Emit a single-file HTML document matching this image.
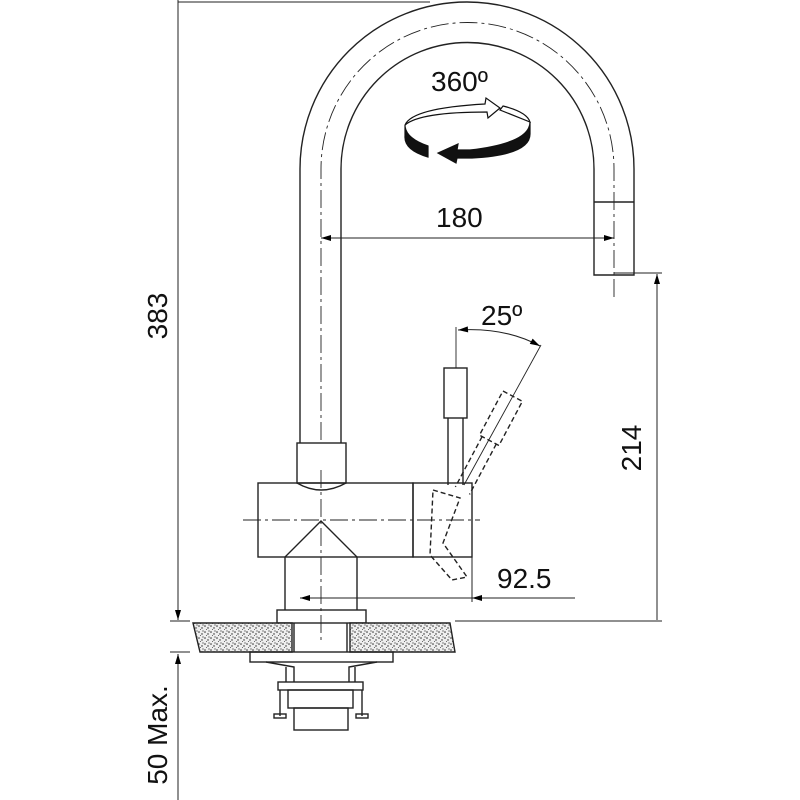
<!DOCTYPE html>
<html><head><style>body{margin:0;background:#fff}svg{display:block}</style></head><body>
<svg width="800" height="800" viewBox="0 0 800 800" xmlns="http://www.w3.org/2000/svg" font-family="Liberation Sans, sans-serif">
<defs>
<marker id="a" viewBox="0 0 10 6" refX="10" refY="3" markerWidth="12" markerHeight="6" orient="auto-start-reverse" markerUnits="userSpaceOnUse"><path d="M0,0L10,3L0,6z" fill="#000"/></marker>
<pattern id="st" width="6" height="6" patternUnits="userSpaceOnUse"><rect width="6" height="6" fill="#eee"/><circle cx="1" cy="2" r="0.8" fill="#333"/><circle cx="4" cy="4" r="0.7" fill="#222"/><circle cx="2.5" cy="5.5" r="0.5" fill="#444"/><circle cx="5" cy="1" r="0.6" fill="#333"/></pattern>
</defs>
<g fill="none" stroke="#222" stroke-width="1.4">
<path d="M300,443 V169 A167,167 0 0 1 634,169 V275 H594 V169 A126,126 0 0 0 341,169 V443"/>
<line x1="594" y1="202" x2="634" y2="202"/>
<path d="M321,440 V169 A146,146 0 0 1 614,169 V300" stroke-dasharray="18,4,3,4" stroke-width="0.9"/>
<rect x="297" y="443" width="49" height="40"/>
<path d="M297,483 Q321,497 346,483"/>
<rect x="258" y="483" width="155" height="74"/>
<rect x="413" y="483" width="59" height="74"/>
<path d="M285,610 V557 L321,521 L357,557 V610"/>
<line x1="243" y1="520" x2="480" y2="520" stroke-dasharray="18,4,3,4" stroke-width="0.9"/>
<line x1="321" y1="470" x2="321" y2="640" stroke-dasharray="18,4,3,4" stroke-width="0.9"/>
<line x1="456" y1="327" x2="456" y2="368" stroke-width="0.9"/>
<rect x="444" y="368" width="23" height="50"/>
<line x1="448" y1="418" x2="448" y2="485"/><line x1="463" y1="418" x2="463" y2="485"/>
<g stroke-dasharray="5,3">
<path d="M433,490 L460,498 L443,543 L467,577 L452,580 L430,555 Z"/>
<g transform="rotate(28 500 420)"><rect x="489" y="393" width="22" height="50"/><line x1="492" y1="443" x2="492" y2="500"/><line x1="508" y1="443" x2="508" y2="500"/></g>
</g>
<line x1="464" y1="485" x2="541" y2="345" stroke-width="0.9"/>
<path d="M458,330 Q505,327 540,346" marker-start="url(#a)" marker-end="url(#a)" stroke-width="1"/>
<rect x="277" y="610" width="89" height="13"/>
<path d="M193,623 H292 V652 H200 Z" fill="url(#st)"/>
<path d="M350,623 H450 L455,652 H350 Z" fill="url(#st)"/>
<line x1="294" y1="623" x2="294" y2="652"/><line x1="347" y1="623" x2="347" y2="652"/>
<rect x="250" y="652" width="143" height="10"/>
<path d="M266,662 L294,667 V682 M377,662 L349,667 V682"/>
<line x1="286" y1="667" x2="286" y2="682"/><line x1="355" y1="667" x2="355" y2="682"/>
<rect x="278" y="682" width="85" height="8"/>
<rect x="288" y="690" width="65" height="18"/>
<rect x="294" y="708" width="54" height="22"/>
<path d="M280,690 V716 M362,690 V716"/>
<rect x="274" y="714" width="12" height="4"/><rect x="356" y="714" width="12" height="4"/>
<g stroke-width="1">
<line x1="178" y1="0" x2="178" y2="620" marker-end="url(#a)"/>
<line x1="178" y1="2" x2="430" y2="2"/>
<line x1="170" y1="621" x2="190" y2="621"/><line x1="455" y1="621" x2="662" y2="621"/>
<line x1="170" y1="652" x2="190" y2="652"/>
<line x1="178" y1="800" x2="178" y2="654" marker-end="url(#a)"/>
<line x1="657" y1="620" x2="657" y2="274" marker-end="url(#a)"/>
<line x1="614" y1="273" x2="662" y2="273"/>
<line x1="321" y1="238" x2="614" y2="238" marker-start="url(#a)" marker-end="url(#a)"/>
<line x1="472" y1="520" x2="472" y2="602"/>
<line x1="300" y1="598" x2="575" y2="598" marker-start="url(#a)"/>
<line x1="490" y1="598" x2="472" y2="598" marker-end="url(#a)"/>
</g>
</g>
<g stroke="#111" stroke-width="1.2">
<path d="M405,125 Q412,108 485,104 L486,98 L500,108 L488,118 L487,112 Q420,112 405,125 Z" fill="#fff"/>
<path d="M500,110 L503,106 Q527,112 530,122 Z" fill="#fff"/>
<path d="M405,125 Q405,138 428,146 L428,157 Q404,150 405,136 Z" fill="#111"/>
<path d="M530,122 Q530,143 470,150 L457,150 L458,144 L438,153 L456,163 L457,158 L472,158 Q530,155 530,134 Z" fill="#111"/>
</g>
<g font-size="28" fill="#111">
<text x="431" y="91">360º</text>
<text x="436" y="227">180</text>
<text x="481" y="325">25º</text>
<text x="497" y="588">92.5</text>
<text transform="translate(167,316) rotate(-90)" text-anchor="middle">383</text>
<text transform="translate(641,448) rotate(-90)" text-anchor="middle">214</text>
<text transform="translate(167,735) rotate(-90)" text-anchor="middle">50 Max.</text>
</g>
</svg>
</body></html>
